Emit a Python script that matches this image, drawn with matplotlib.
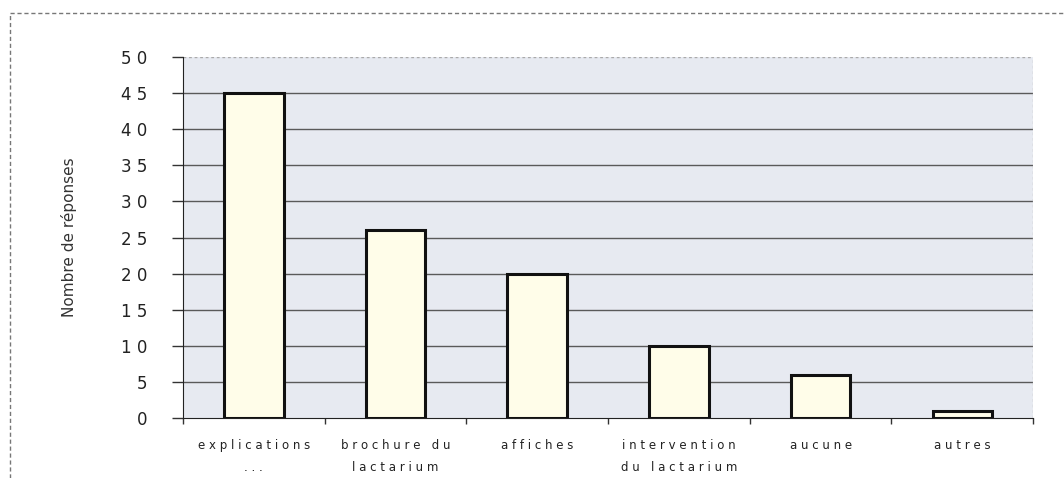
import matplotlib
matplotlib.use("Agg")
import matplotlib.pyplot as plt
from matplotlib.lines import Line2D

categories = ["explications\n...", "brochure du\nlactarium", "affiches",
              "intervention\ndu lactarium", "aucune", "autres"]
values = [45, 26, 20, 10, 6, 1]
yticks = [0, 5, 10, 15, 20, 25, 30, 35, 40, 45, 50]


def espacer(texto):
    # lettres espacées comme dans l'original
    return "\n".join(" ".join(ligne) for ligne in texto.split("\n"))


fig = plt.figure(figsize=(10.64, 4.78), dpi=100)
ax = fig.add_axes([0.172, 0.1255, 0.799, 0.7552])
ax.set_facecolor("#e7eaf1")

x = list(range(len(categories)))
ax.bar(x, values, width=0.42, color="#fffde9", edgecolor="#111111", linewidth=2.2, zorder=3)

ax.set_xlim(-0.5, len(categories) - 0.5)
ax.set_ylim(0, 50)
ax.set_yticks(yticks)
ax.set_yticklabels([" ".join(str(v)) if v >= 10 else str(v) for v in yticks],
                   fontsize=12, color="#222222")
ax.tick_params(axis="y", length=8, width=1, color="#333333", pad=18)

ax.set_xticks([i + 0.5 for i in range(-1, len(categories))], minor=False)
ax.set_xticklabels([])
ax.tick_params(axis="x", length=4, width=1, color="#333333", direction="out")
for i, cat in enumerate(categories):
    ax.text(i, -2.9, espacer(cat), ha="center", va="top", fontsize=8.5,
            color="#222222", linespacing=1.9, fontweight="medium")

for v in yticks[1:-1]:
    ax.axhline(v, color="#5a5a5a", linewidth=1, zorder=1)
ax.axhline(50, color="#aaaaaa", linewidth=1, linestyle=(0, (2, 2)), zorder=1)

for side in ["top", "right"]:
    ax.spines[side].set_visible(False)
ax.axvline(len(categories) - 0.5, color="#bbbbbb", linewidth=1, linestyle=(0, (2, 2)))
ax.spines["left"].set_color("#222222")
ax.spines["bottom"].set_color("#222222")

ax.set_ylabel("Nombre de réponses", fontsize=11, color="#333333", labelpad=31)

# cadre extérieur pointillé
fig.add_artist(Line2D([10 / 1064, 10 / 1064], [0, 1 - 13 / 478], transform=fig.transFigure,
                      color="#777777", linewidth=1, linestyle=(0, (3, 2))))
fig.add_artist(Line2D([10 / 1064, 1], [1 - 13 / 478, 1 - 13 / 478], transform=fig.transFigure,
                      color="#777777", linewidth=1, linestyle=(0, (3, 2))))

fig.savefig("out.png", dpi=100)
